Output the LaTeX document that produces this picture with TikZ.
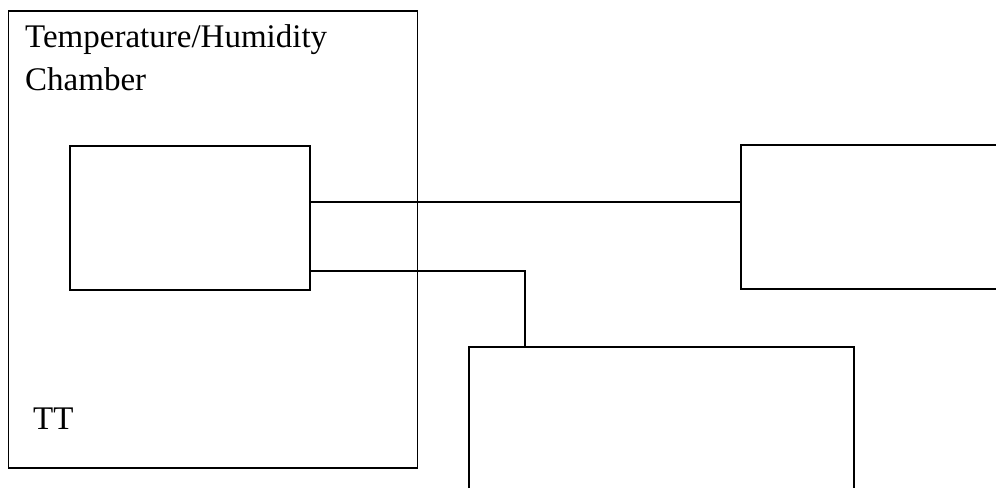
\documentclass[tikz,border=0pt]{standalone}
\usepackage{fontspec}
\setmainfont{Liberation Serif}
\tikzset{
  box/.style={draw, line width=1.6pt, inner sep=0pt},
  wire/.style={line width=1.6pt},
  lbl/.style={font=\fontsize{33}{43}\selectfont, inner sep=0pt, anchor=base west, align=left}
}
\begin{document}
\begin{tikzpicture}[x=1pt,y=-1pt]
\useasboundingbox (0,0) rectangle (996,488);
\node[box, minimum width=409, minimum height=457, anchor=north west] (chamber) at (7.5,10) {};
\node[box, minimum width=240, minimum height=144, anchor=north west] (sensor) at (69,145) {};
% right box, open at page edge
\coordinate (rtop) at (741,145);
\coordinate (rbot) at (741,289);
\draw[wire] (996,145) -- (rtop) -- (rbot) -- (996,289);
% lower box, open at page edge
\coordinate (ltl) at (469,347);
\coordinate (ltr) at (854,347);
\draw[wire] (469,488) -- (ltl) -- (ltr) -- (854,488);
\coordinate (drop) at (525,347);
\draw[wire] (sensor.east |- 0,202) -- (rtop |- 0,202);
\draw[wire] (sensor.east |- 0,271) -- (drop |- 0,271) -- (drop);
% last line sits on the base anchor
\node[lbl] (title) at (25,90) {Temperature/Humidity\\Chamber};
\node[lbl] (tt) at (33,429) {TT};
\end{tikzpicture}
\end{document}
